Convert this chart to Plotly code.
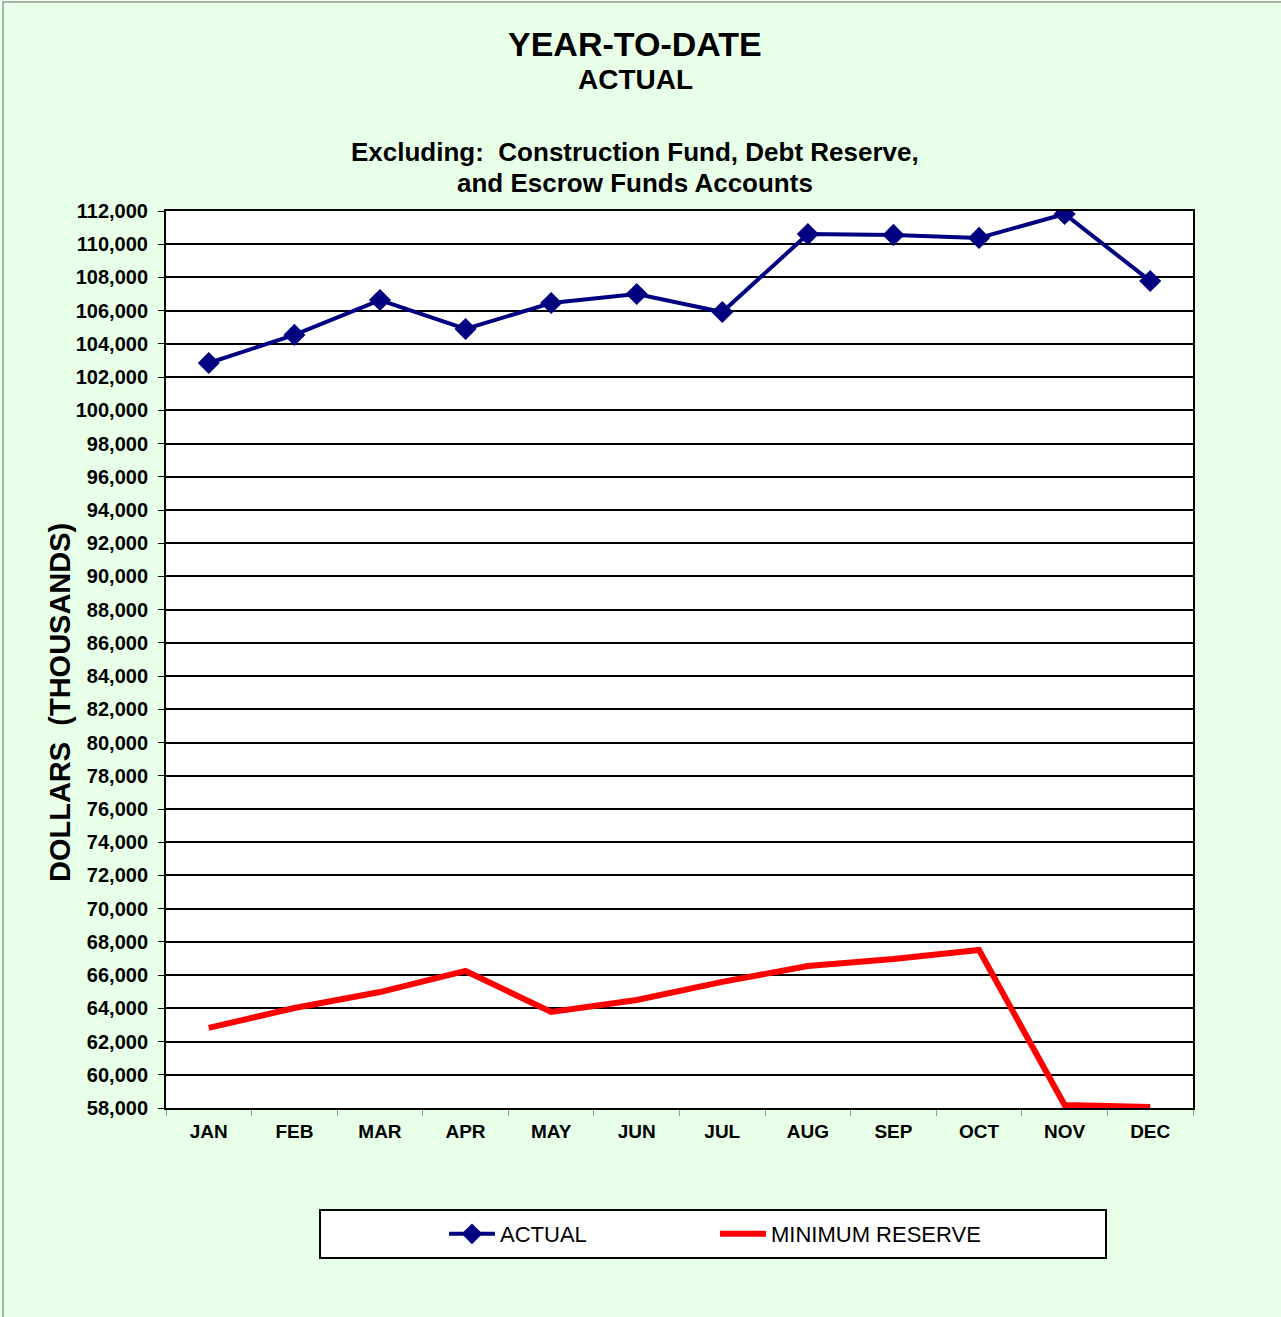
import plotly.graph_objects as go

months = ["JAN", "FEB", "MAR", "APR", "MAY", "JUN", "JUL", "AUG", "SEP", "OCT", "NOV", "DEC"]
actual = [102850, 104540, 106640, 104900, 106460, 107000, 105920, 110610, 110560, 110380, 111820, 107790]
minimum_reserve = [62820, 64020, 64980, 66250, 63780, 64500, 65590, 66550, 66970, 67510, 58180, 58060]
y_ticks = list(range(58000, 112001, 2000))

FONT = "Liberation Sans, Arial, sans-serif"
BG = "#E8FFE8"

fig = go.Figure()
fig.add_trace(go.Scatter(
    x=months, y=actual, name="ACTUAL", mode="lines+markers",
    line=dict(color="#000080", width=4),
    marker=dict(symbol="diamond", size=17, color="#000080"),
))
fig.add_trace(go.Scatter(
    x=months, y=minimum_reserve, name="MINIMUM RESERVE", mode="lines",
    line=dict(color="#FF0000", width=6),
))

L, R, T, B = 166, 88, 211, 209
W, H = 1281, 1317
pw, ph = W - L - R, H - T - B

def px_x(p):
    return (p - L) / pw

def px_y(p):
    return (H - B - p) / ph

fig.update_layout(
    width=W, height=H,
    margin=dict(l=L, r=R, t=T, b=B, autoexpand=False),
    paper_bgcolor=BG, plot_bgcolor="white",
    font=dict(family=FONT, color="black"),
    showlegend=True,
    legend=dict(
        orientation="h", x=px_x(444), xanchor="left", y=px_y(1234), yanchor="middle",
        bgcolor="rgba(0,0,0,0)", font=dict(size=22, family=FONT),
        entrywidth=210, itemwidth=46,
    ),
    xaxis=dict(
        type="category", range=[-0.5, 11.5], showgrid=False,
        ticks="outside", tickson="boundaries", ticklen=6, tickcolor="#999999",
        ticklabelstandoff=5,
        tickfont=dict(size=19, family=FONT, weight="bold"),
        showline=True, linecolor="black", linewidth=2, mirror=True,
    ),
    yaxis=dict(
        range=[58000, 112000], tickvals=y_ticks, tickformat=",",
        showgrid=True, gridcolor="black", gridwidth=2,
        ticks="outside", ticklen=6, tickcolor="black",
        ticklabelstandoff=6,
        tickfont=dict(size=20, family=FONT, weight="bold"),
        showline=True, linecolor="black", linewidth=2, mirror=True,
    ),
)

anns = [
    ("YEAR-TO-DATE", 44, 34),
    ("ACTUAL", 80, 28),
    ("Excluding:  Construction Fund, Debt Reserve,", 152, 26),
    ("and Escrow Funds Accounts", 183, 26),
]
for text, ypx, size in anns:
    fig.add_annotation(
        text=text, xref="paper", yref="paper", x=px_x(635), y=px_y(ypx),
        xanchor="center", yanchor="middle", showarrow=False,
        font=dict(size=size, family=FONT, weight="bold", color="black"),
    )

# y-axis title
fig.add_annotation(
    text="DOLLARS  (THOUSANDS)", xref="paper", yref="paper", x=px_x(60), y=px_y(703),
    xanchor="center", yanchor="middle", showarrow=False, textangle=-90,
    font=dict(size=29, family=FONT, weight="bold", color="black"),
)

# legend box
fig.add_shape(type="rect", xref="paper", yref="paper",
              x0=px_x(320), x1=px_x(1106), y0=px_y(1258), y1=px_y(1210),
              line=dict(color="black", width=2), fillcolor="white", layer="below")
# page border
fig.add_shape(type="rect", xref="paper", yref="paper",
              x0=px_x(3), x1=px_x(1290), y0=px_y(1330), y1=px_y(2),
              line=dict(color="#999999", width=1.5), fillcolor="rgba(0,0,0,0)", layer="below")

fig.write_html("out.html", config={"displayModeBar": False},
               post_script="document.body.style.margin='0px';")
